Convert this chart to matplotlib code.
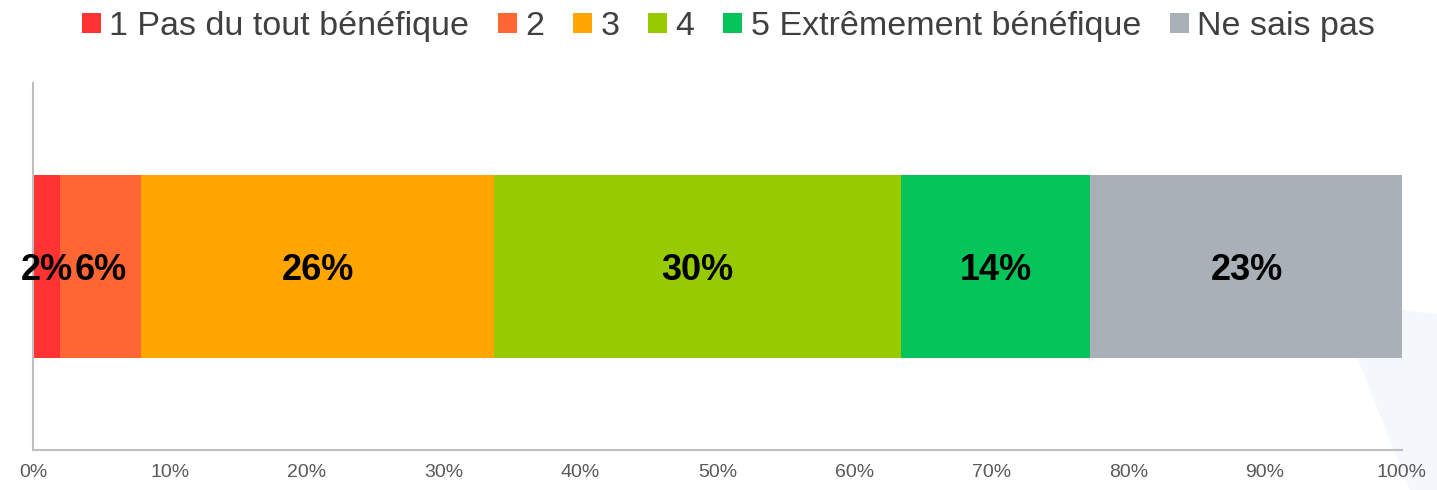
import matplotlib
matplotlib.use('Agg')
import matplotlib.pyplot as plt
from matplotlib.patches import Polygon

# data
categories = ['1 Pas du tout bénéfique', '2', '3', '4',
              '5 Extrêmement bénéfique', 'Ne sais pas']
values = [2.0, 5.9, 25.8, 29.7, 13.8, 22.9]
colors = ['#ff3333', '#ff6633', '#ffa500', '#97cb00', '#05c45a', '#a9b0b8']
xticks = [0, 10, 20, 30, 40, 50, 60, 70, 80, 90, 100]

plt.rcParams['font.family'] = ['Liberation Sans', 'DejaVu Sans']

fig = plt.figure(figsize=(14.37, 4.9), dpi=100)

# faint background decoration bottom right
W, H = 1437, 490
pts = [(1335, 302), (1437, 314), (1437, 490), (1410, 490)]
fig.patches.append(Polygon([(x / W, 1 - y / H) for x, y in pts], closed=True,
                           transform=fig.transFigure, facecolor='#f4f7fb',
                           edgecolor='none', zorder=0))

ax = fig.add_axes([33 / W, 1 - 450 / H, (1402 - 33) / W, (450 - 83) / H])
ax.set_zorder(1)
ax.patch.set_alpha(0)

left = 0
for cat, v, c in zip(categories, values, colors):
    ax.barh(0, v, left=left, height=0.5, color=c, label=cat, zorder=2)
    ax.text(left + v / 2, -0.012, '%.0f%%' % v, ha='center', va='center',
            fontsize=26, fontweight='bold', color='black', zorder=3)
    left += v

ax.set_xlim(0, 100)
ax.set_ylim(-0.5, 0.5)
ax.set_yticks([])
ax.set_xticks(xticks)
ax.set_xticklabels(['%d%%' % t for t in xticks], fontsize=14, color='#595959')
ax.tick_params(axis='x', length=0, pad=10)
for s in ['top', 'right']:
    ax.spines[s].set_visible(False)
for s in ['left', 'bottom']:
    ax.spines[s].set_color('#bfbfbf')
    ax.spines[s].set_linewidth(1.5)

fig.legend(loc='upper center', bbox_to_anchor=(0.507, 1.04), ncol=6,
           frameon=False, fontsize=24.5, handlelength=0.55, handleheight=0.55,
           handletextpad=0.25, columnspacing=0.85, labelcolor='#404040')

fig.savefig('out.png', dpi=100)
